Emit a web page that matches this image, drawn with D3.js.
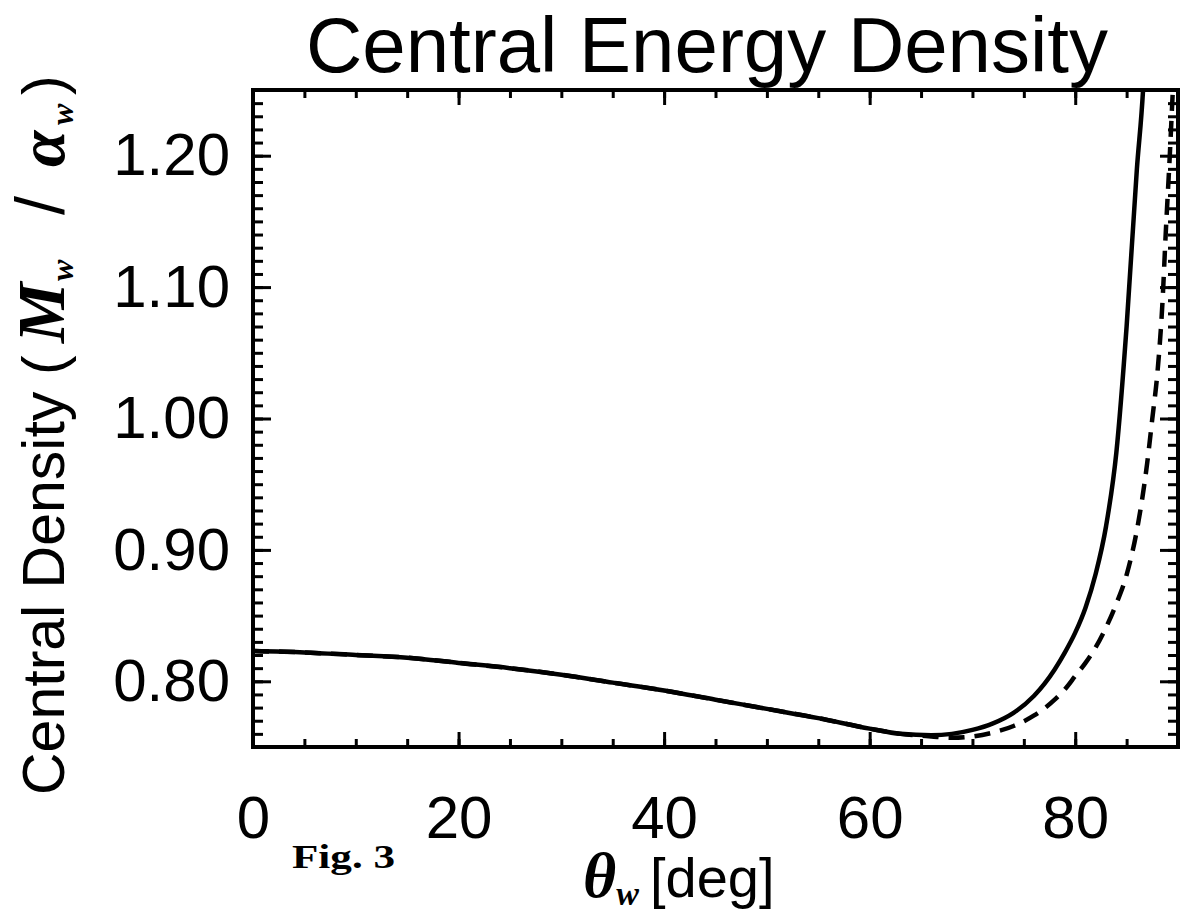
<!DOCTYPE html>
<html>
<head>
<meta charset="utf-8">
<script src="https://cdn.jsdelivr.net/npm/d3@7"></script>
<style>
  body { margin: 0; background: #fff; }
  svg { display: block; }
  .tick line { stroke: #000; stroke-width: 3; }
  .domain { display: none; }
  .fn { fill: none; stroke: #000; stroke-width: 4.5; }
</style>
</head>
<body>
<svg class="plot"></svg>
<script>
// plot box in page pixels
const margin = { top: 90, right: 2, bottom: 170, left: 253 }
const dimen = { width: 1180 - margin.left - margin.right, height: 917 - margin.top - margin.bottom }

// solid curve
const thetaSolid = [0, 5, 10, 15, 20, 25, 30, 35, 40, 45, 50, 55, 60, 63, 66, 68, 70, 72, 74, 76, 77, 78, 79, 80, 81, 82, 83, 84, 85, 86, 86.6, 86.8]
const densSolid = [0.823, 0.822, 0.820, 0.818, 0.814, 0.810, 0.805, 0.799, 0.793, 0.786, 0.779, 0.772, 0.764, 0.760, 0.759, 0.760, 0.763, 0.768, 0.776, 0.789, 0.798, 0.809, 0.822, 0.837, 0.856, 0.882, 0.918, 0.974, 1.07, 1.19, 1.25, 1.28]
// dashed curve
const thetaDashed = [0, 5, 10, 15, 20, 25, 30, 35, 40, 45, 50, 55, 60, 63, 66, 68, 70, 72, 74, 76, 78, 79, 80, 81, 82, 83, 84, 85, 86, 86.5, 87, 87.5, 88, 88.5, 88.8, 89.2, 89.5, 89.7]
const densDashed = [0.823, 0.822, 0.820, 0.818, 0.814, 0.810, 0.805, 0.799, 0.793, 0.786, 0.779, 0.772, 0.764, 0.760, 0.758, 0.757, 0.758, 0.761, 0.766, 0.774, 0.786, 0.794, 0.804, 0.814, 0.826, 0.841, 0.859, 0.881, 0.915, 0.938, 0.966, 1.0, 1.035, 1.09, 1.14, 1.2, 1.25, 1.28]

const xTicks = [0, 20, 40, 60, 80]
const yTicks = [0.80, 0.90, 1.00, 1.10, 1.20]
const xMinor = d3.range(0, 91, 5)
const yMinor = d3.range(75, 126, 1).map(d => d / 100)

const xScale = d3.scaleLinear().domain([0, 90]).range([0, dimen.width])
const yScale = d3.scaleLinear().domain([0.75, 1.25]).range([dimen.height, 0])

const svg = d3.select('.plot')
    .attr('width', 1180)
    .attr('height', 917)

// title
svg.append('text')
    .attr('x', 707).attr('y', 72)
    .attr('text-anchor', 'middle')
    .attr('font-family', 'Liberation Sans, Arial, sans-serif')
    .attr('font-size', 78)
    .text('Central Energy Density')

const canvas = svg.append('g')
    .attr('transform', `translate(${margin.left}, ${margin.top})`)

canvas.append('clipPath').attr('id', 'box')
  .append('rect').attr('width', dimen.width).attr('height', dimen.height)

// Draw Axes
// =========
const styleLabels = g => g.selectAll('text')
    .attr('font-family', 'Liberation Sans, Arial, sans-serif')
    .attr('font-size', 60)
    .attr('fill', '#000')

canvas.append('g')
    .attr('transform', `translate(0, ${dimen.height})`)
    .call(d3.axisBottom(xScale).tickValues(xTicks).tickSize(-15).tickSizeOuter(0).tickPadding(48).tickFormat(d3.format('d')))
    .call(styleLabels)
canvas.append('g')
    .attr('transform', `translate(0, ${dimen.height})`)
    .call(d3.axisBottom(xScale).tickValues(xMinor).tickSize(-8).tickSizeOuter(0).tickFormat(''))
canvas.append('g')
    .call(d3.axisTop(xScale).tickValues(xTicks).tickSize(-15).tickSizeOuter(0).tickFormat(''))
canvas.append('g')
    .call(d3.axisTop(xScale).tickValues(xMinor).tickSize(-8).tickSizeOuter(0).tickFormat(''))

canvas.append('g')
    .call(d3.axisLeft(yScale).tickValues(yTicks).tickSize(-18).tickSizeOuter(0).tickPadding(23).tickFormat(d3.format('.2f')))
    .call(styleLabels)
canvas.append('g')
    .call(d3.axisLeft(yScale).tickValues(yMinor).tickSize(-10).tickSizeOuter(0).tickFormat(''))
canvas.append('g')
    .attr('transform', `translate(${dimen.width}, 0)`)
    .call(d3.axisRight(yScale).tickValues(yTicks).tickSize(-18).tickSizeOuter(0).tickFormat(''))
canvas.append('g')
    .attr('transform', `translate(${dimen.width}, 0)`)
    .call(d3.axisRight(yScale).tickValues(yMinor).tickSize(-10).tickSizeOuter(0).tickFormat(''))

// frame
canvas.append('rect')
    .attr('width', dimen.width).attr('height', dimen.height)
    .attr('fill', 'none').attr('stroke', '#000').attr('stroke-width', 4)

// Draw Curves
// ===========
const line = d3.line()
  .x(d => xScale(d.x))
  .y(d => yScale(d.y))
  .curve(d3.curveMonotoneX)

const solid = thetaSolid.map((t, i) => ({ x: t, y: densSolid[i] }))
const dashed = thetaDashed.map((t, i) => ({ x: t, y: densDashed[i] }))

const curves = canvas.append('g').attr('clip-path', 'url(#box)')
curves.append('path').attr('class', 'fn').attr('d', line(solid))
curves.append('path').attr('class', 'fn').attr('d', line(dashed))
    .attr('stroke-dasharray', '16,10')

// Axis titles
// ===========
const serifBI = s => s.attr('font-family', 'Liberation Serif, serif').attr('font-weight', 'bold').attr('font-style', 'italic')

const ylab = svg.append('text')
    .attr('transform', 'translate(64, 795) rotate(-90)')
    .attr('font-family', 'Liberation Sans, Arial, sans-serif')
    .attr('font-size', 59)
ylab.append('tspan').text('Central Density')
ylab.append('tspan').attr('x', 420).text('(')
ylab.append('tspan').attr('x', 452).call(serifBI).attr('font-size', 68).text('M')
ylab.append('tspan').attr('x', 514).call(serifBI).attr('font-size', 32).attr('dy', 9).text('w')
ylab.append('tspan').attr('x', 580).attr('dy', -9).attr('font-size', 68).text('/')
ylab.append('tspan').attr('x', 628).call(serifBI).attr('font-size', 66).text('α')
ylab.append('tspan').attr('x', 670).call(serifBI).attr('font-size', 32).attr('dy', 9).text('w')
ylab.append('tspan').attr('x', 700).attr('dy', -9).text(')')

const xlab = svg.append('text')
    .attr('x', 583).attr('y', 897)
    .attr('font-family', 'Liberation Sans, Arial, sans-serif')
    .attr('font-size', 56)
xlab.append('tspan').call(serifBI).attr('font-size', 64).text('θ')
xlab.append('tspan').call(serifBI).attr('font-size', 34).attr('dy', 8).text('w')
xlab.append('tspan').attr('x', 650).attr('dy', -8).text('[deg]')

svg.append('text')
    .attr('x', 292).attr('y', 868)
    .attr('font-family', 'Liberation Serif, serif')
    .attr('font-weight', 'bold')
    .attr('font-size', 34)
    .attr('textLength', 103)
    .attr('lengthAdjust', 'spacingAndGlyphs')
    .text('Fig. 3')
</script>
</body>
</html>
